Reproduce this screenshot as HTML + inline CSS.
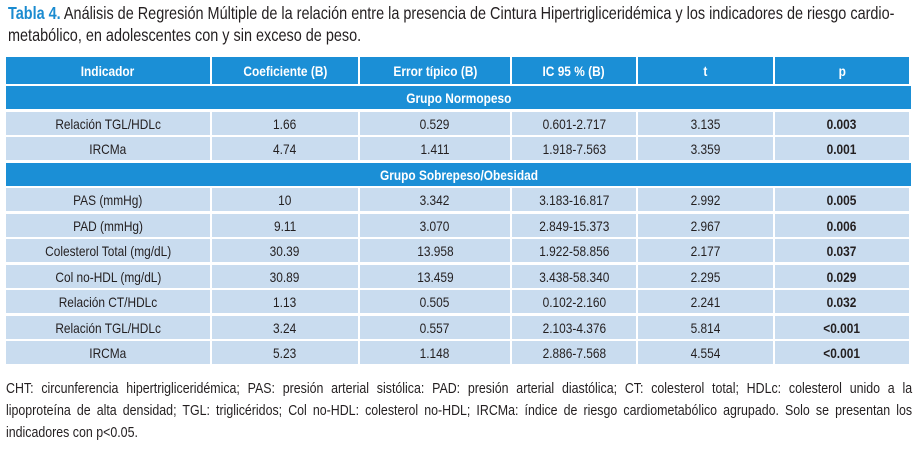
<!DOCTYPE html>
<html><head><meta charset="utf-8"><style>
body{margin:0;width:914px;height:469px;background:#fff;overflow:hidden;font-family:"Liberation Sans",sans-serif;color:#231f20}
.t{position:absolute;left:8px;top:2px;width:1090px;font-size:17.5px;line-height:22px;transform:scaleX(0.825);transform-origin:0 0}
.t b{color:#1a8bd0;font-weight:bold}
.c{position:absolute;display:flex;align-items:center;justify-content:center;font-size:14px;background:#c9dcef;box-sizing:border-box}
.c span{display:inline-block;transform:scaleX(0.85);white-space:nowrap}
.h{background:#1b8fd6;color:#fff;font-weight:bold}
.g{background:#1b8fd6;color:#fff;font-weight:bold}
.bd{font-weight:bold}
.f{position:absolute;left:6px;top:378px;width:1097px;font-size:15px;line-height:22px;transform:scaleX(0.826);transform-origin:0 0}
.f div{white-space:nowrap}
.f .j{text-align:justify;text-align-last:justify;white-space:normal}
</style></head><body>
<div class="t"><b>Tabla 4.</b> Análisis de Regresión Múltiple de la relación entre la presencia de Cintura Hipertrigliceridémica y los indicadores de riesgo cardio-metabólico, en adolescentes con y sin exceso de peso.</div>
<div id="tbl"></div>
<div class="f"><div class="j">CHT: circunferencia hipertrigliceridémica; PAS: presión arterial sistólica: PAD: presión arterial diastólica; CT: colesterol total; HDLc: colesterol unido a la</div><div class="j">lipoproteína de alta densidad; TGL: triglicéridos; Col no-HDL: colesterol no-HDL; IRCMa: índice de riesgo cardiometabólico agrupado. Solo se presentan los</div><div>indicadores con p&lt;0.05.</div></div>
<script>
const headers=["Indicador","Coeficiente (B)","Error típico (B)","IC 95 % (B)","t","p"];
const rows=[
["G","Grupo Normopeso"],
["Relación TGL/HDLc","1.66","0.529","0.601-2.717","3.135","0.003"],
["IRCMa","4.74","1.411","1.918-7.563","3.359","0.001"],
["G","Grupo Sobrepeso/Obesidad"],
["PAS (mmHg)","10","3.342","3.183-16.817","2.992","0.005"],
["PAD (mmHg)","9.11","3.070","2.849-15.373","2.967","0.006"],
["Colesterol Total (mg/dL)","30.39","13.958","1.922-58.856","2.177","0.037"],
["Col no-HDL (mg/dL)","30.89","13.459","3.438-58.340","2.295","0.029"],
["Relación CT/HDLc","1.13","0.505","0.102-2.160","2.241","0.032"],
["Relación TGL/HDLc","3.24","0.557","2.103-4.376","5.814","<0.001"],
["IRCMa","5.23","1.148","2.886-7.568","4.554","<0.001"]];
const xs=[6,212,360,512,638,775,911];
const tbl=document.getElementById('tbl');
function cell(x,y,w,h,txt,cls){const d=document.createElement('div');d.className='c '+cls;d.style.left=x+'px';d.style.top=y+'px';d.style.width=w+'px';d.style.height=h+'px';const s=document.createElement('span');s.textContent=txt;d.appendChild(s);tbl.appendChild(d);return d;}
headers.forEach((t,i)=>{const d=cell(xs[i],57,xs[i+1]-xs[i]-2,27,t,'h');

});
rows.forEach((r,ri)=>{const y=Math.round(86+ri*25.5);
if(r[0]==='G'){const d=cell(6,y,905,23,r[1],'g');

return;}
r.forEach((t,i)=>{const d=cell(xs[i],y,xs[i+1]-xs[i]-2,23,t,i===5?'bd':'');

});});
</script>
</body></html>
